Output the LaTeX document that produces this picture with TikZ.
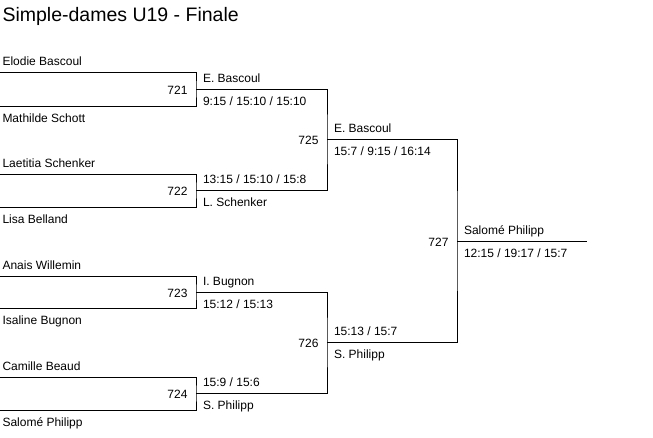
\documentclass[tikz,border=0pt]{standalone}
\usepackage{fontspec}
\setmainfont{Liberation Sans}
\begin{document}
\begin{tikzpicture}[x=1pt,y=-1pt,line width=1pt,
  every node/.style = {inner sep=0, font=\fontsize{12}{14}\selectfont},
  etop/.style = {anchor=base west, xshift=2pt, yshift=7pt},
  ebot/.style = {anchor=base west, xshift=2pt, yshift=-16pt},
  wtop/.style = {anchor=base west, xshift=6.5pt, yshift=7pt},
  wbot/.style = {anchor=base west, xshift=6.5pt, yshift=-16pt},
  mnum/.style = {anchor=base east, xshift=-8pt, yshift=-5pt}]
      \useasboundingbox (0,0) rectangle (653,437);

      \node[anchor=base west, font=\fontsize{19.5}{22}\selectfont](title) at (2,21) {Simple-dames U19 - Finale};

      \coordinate (p1) at (0,72);
      \coordinate (p2) at (0,106);
      \coordinate (p3) at (0,174);
      \coordinate (p4) at (0,207);
      \coordinate (p5) at (0,276);
      \coordinate (p6) at (0,308);
      \coordinate (p7) at (0,377);
      \coordinate (p8) at (0,410);
      \coordinate (m721) at (196,89);
      \coordinate (m722) at (196,190);
      \coordinate (m723) at (196,292);
      \coordinate (m724) at (196,393);
      \coordinate (m725) at (327,139);
      \coordinate (m726) at (327,342);
      \coordinate (m727) at (457,241);
      \coordinate (end) at (587,241);

      \draw (p1) -| (m721) |- (p2);
      \draw (p3) -| (m722) |- (p4);
      \draw (p5) -| (m723) |- (p6);
      \draw (p7) -| (m724) |- (p8);
      \draw (m721) -| (m725) |- (m722);
      \draw (m723) -| (m726) |- (m724);
      \draw (m725) -| (m727) |- (m726);
      \draw (m727) -- (end);

      % first round
      \node[etop](elodie) at (p1) {Elodie Bascoul};
      \node[ebot](mathilde) at (p2) {Mathilde Schott};
      \node[etop](laetitia) at (p3) {Laetitia Schenker};
      \node[ebot](lisa) at (p4) {Lisa Belland};
      \node[etop](anais) at (p5) {Anais Willemin};
      \node[ebot](isaline) at (p6) {Isaline Bugnon};
      \node[etop](camille) at (p7) {Camille Beaud};
      \node[ebot](salome) at (p8) {Salomé Philipp};

      \node[mnum](n721) at (m721) {721};
      \node[mnum](n722) at (m722) {722};
      \node[mnum](n723) at (m723) {723};
      \node[mnum](n724) at (m724) {724};
      \node[wtop](w721) at (m721) {E. Bascoul};
      \node[wbot](s721) at (m721) {9:15 / 15:10 / 15:10};
      \node[wtop](s722) at (m722) {13:15 / 15:10 / 15:8};
      \node[wbot](w722) at (m722) {L. Schenker};
      \node[wtop](w723) at (m723) {I. Bugnon};
      \node[wbot](s723) at (m723) {15:12 / 15:13};
      \node[wtop](s724) at (m724) {15:9 / 15:6};
      \node[wbot](w724) at (m724) {S. Philipp};

      % second round and final
      \node[mnum](n725) at (m725) {725};
      \node[mnum](n726) at (m726) {726};
      \node[mnum](n727) at (m727) {727};
      \node[wtop](w725) at (m725) {E. Bascoul};
      \node[wbot](s725) at (m725) {15:7 / 9:15 / 16:14};
      \node[wtop](s726) at (m726) {15:13 / 15:7};
      \node[wbot](w726) at (m726) {S. Philipp};
      \node[wtop](w727) at (m727) {Salomé Philipp};
      \node[wbot](s727) at (m727) {12:15 / 19:17 / 15:7};

    \end{tikzpicture}
\end{document}
